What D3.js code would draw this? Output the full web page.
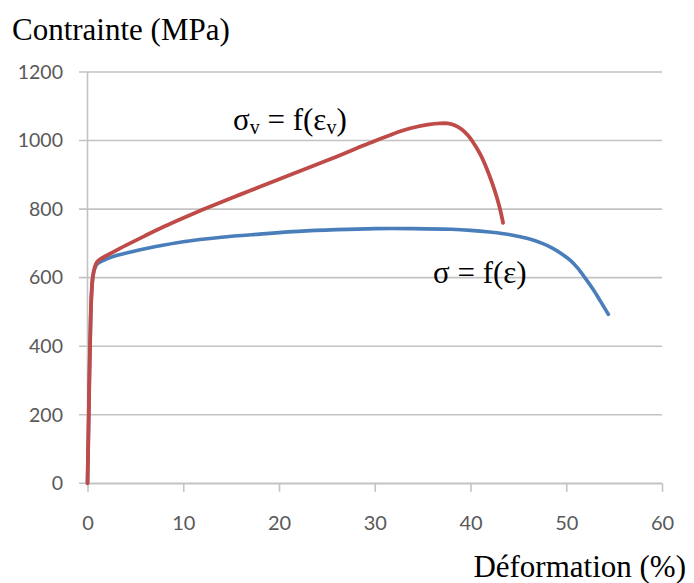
<!DOCTYPE html>
<html>
<head>
<meta charset="utf-8">
<script src="https://cdn.jsdelivr.net/npm/d3@7"></script>
<style>
  html, body { margin: 0; padding: 0; background: #ffffff; }
  svg { display: block; }
  .tick text { font-family: Lato, "Open Sans", sans-serif; fill: #595959; }
  .serif { font-family: "Liberation Serif", "Times New Roman", serif; fill: #000; }
</style>
</head>
<body>
<svg id="chart" width="694" height="583"></svg>
<script>
// Strain (%) ticks and stress (MPa) ticks
const xTicks = [0, 10, 20, 30, 40, 50, 60];
const yTicks = [0, 200, 400, 600, 800, 1000, 1200];

// Engineering curve: sigma = f(epsilon)  [strain %, stress MPa]
const engStrain = [0, 0.1, 0.18, 0.28, 0.4, 0.55, 0.75, 1.0, 1.5, 2.5, 4.4, 7, 10, 14, 18, 22, 26, 30, 34, 38, 40, 42, 44, 46, 47.5, 48.5, 49.5, 50.4, 51.2, 52, 52.8, 53.6, 54.4];
const engStress = [0, 150, 280, 420, 540, 600, 626, 640, 648, 660, 674, 690, 705, 718, 727, 735, 740, 743, 743, 741, 738, 733, 726, 714, 700, 687, 670, 651, 628, 598, 566, 530, 493];

// True curve: sigma_v = f(epsilon_v)
const trueStrain = [0, 0.1, 0.18, 0.28, 0.4, 0.55, 0.75, 1.0, 1.5, 2.5, 4, 6, 8, 10, 12, 14, 16, 18, 20, 22, 24, 26, 28, 30, 31.5, 33, 34.5, 35.7, 36.8, 37.6, 38.4, 39.1, 39.7, 40.2, 41, 41.7, 42.2, 42.7, 43.1, 43.4];
const trueStress = [0, 150, 280, 420, 540, 602, 630, 646, 657, 672, 694, 722, 749, 774, 798, 821, 843, 865, 887, 909, 931, 953, 976, 999, 1015, 1030, 1041, 1047, 1050, 1050, 1044, 1032, 1016, 998, 961, 918, 881, 839, 798, 760];

const svg = d3.select("#chart");

const x = d3.scaleLinear().domain([0, 60]).range([87.5, 662]);
const y = d3.scaleLinear().domain([0, 1200]).range([483.3, 72]);

const gridColor = "#c3c3c3";

// horizontal gridlines (extend past the axis as outside tick marks)
svg.append("g")
  .selectAll("line")
  .data(yTicks)
  .join("line")
  .attr("x1", x(0) - 8.5)
  .attr("x2", x(60))
  .attr("y1", d => y(d))
  .attr("y2", d => y(d))
  .attr("stroke", gridColor)
  .attr("stroke-width", 1.6);

// vertical axis line
svg.append("line")
  .attr("x1", x(0)).attr("x2", x(0))
  .attr("y1", y(1200)).attr("y2", y(0))
  .attr("stroke", gridColor)
  .attr("stroke-width", 1.6);

// y axis labels
const yAxis = svg.append("g")
  .attr("transform", `translate(${x(0)},0)`)
  .call(d3.axisLeft(y).tickValues(yTicks).tickSize(0).tickPadding(24.5).tickFormat(d3.format("d")));
yAxis.select(".domain").remove();
yAxis.selectAll("text").style("font-size", "19.5px");

// x axis
const xAxis = svg.append("g")
  .attr("transform", `translate(0,${y(0)})`)
  .call(d3.axisBottom(x).tickValues(xTicks).tickSize(8.5).tickSizeOuter(0).tickPadding(24));
xAxis.select(".domain").attr("stroke", gridColor).attr("stroke-width", 1.6);
xAxis.selectAll(".tick line").attr("stroke", gridColor).attr("stroke-width", 1.6);
xAxis.selectAll("text").style("font-size", "20px");

// curves
const line = d3.line()
  .x(d => x(d[0]))
  .y(d => y(d[1]))
  .curve(d3.curveCatmullRom.alpha(0.5));

const engData = engStrain.map((e, i) => [e, engStress[i]]);
const trueData = trueStrain.map((e, i) => [e, trueStress[i]]);

svg.append("path")
  .datum(engData)
  .attr("d", line)
  .attr("fill", "none")
  .attr("stroke", "#4a7ebb")
  .attr("stroke-width", 3.6)
  .attr("stroke-linejoin", "round")
  .attr("stroke-linecap", "round");

svg.append("path")
  .datum(trueData)
  .attr("d", line)
  .attr("fill", "none")
  .attr("stroke", "#be4b48")
  .attr("stroke-width", 3.8)
  .attr("stroke-linejoin", "round")
  .attr("stroke-linecap", "round");

// axis titles
svg.append("text")
  .attr("class", "serif")
  .attr("x", 12)
  .attr("y", 40)
  .style("font-size", "31px")
  .text("Contrainte (MPa)");

svg.append("text")
  .attr("class", "serif")
  .attr("x", 686)
  .attr("y", 577)
  .attr("text-anchor", "end")
  .style("font-size", "31px")
  .text("Déformation (%)");

// curve annotations
const t1 = svg.append("text")
  .attr("class", "serif")
  .attr("x", 233)
  .attr("y", 130)
  .style("font-size", "31px");
t1.append("tspan").text("σ");
t1.append("tspan").attr("dy", 4).style("font-size", "20px").text("v");
t1.append("tspan").attr("dy", -4).text(" = f(ε");
t1.append("tspan").attr("dy", 4).style("font-size", "20px").text("v");
t1.append("tspan").attr("dy", -4).text(")");

svg.append("text")
  .attr("class", "serif")
  .attr("x", 433)
  .attr("y", 283)
  .style("font-size", "31px")
  .text("σ = f(ε)");
</script>
</body>
</html>
